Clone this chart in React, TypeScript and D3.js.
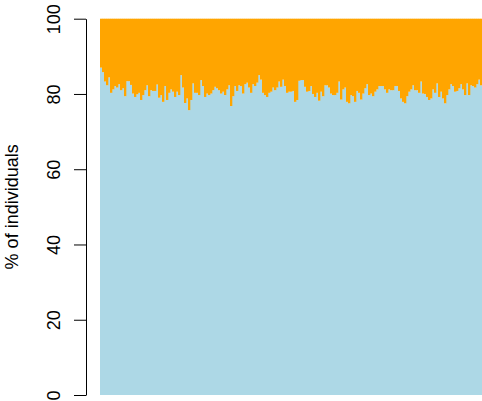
import React, { useEffect, useRef } from 'react';
import * as d3 from 'd3';

// share of individuals in the first group (light blue), per sample, left to right
const blueShare = [
  87.0, 85.8, 83.3, 82.3, 84.4, 80.3, 81.2, 82.1, 81.7, 82.6, 81.0, 81.5, 79.4, 83.4, 83.4, 82.4,
  80.1, 79.2, 79.9, 80.3, 78.4, 79.7, 81.0, 82.3, 79.4, 81.0, 80.8, 80.8, 82.5, 79.0, 79.7, 77.9,
  82.1, 78.4, 80.3, 81.2, 80.6, 79.2, 80.6, 79.7, 85.0, 81.7, 77.6, 78.8, 75.7, 78.4, 82.8, 80.3,
  80.3, 79.7, 83.7, 82.1, 79.2, 80.1, 79.7, 80.1, 81.0, 81.9, 81.5, 81.0, 80.1, 80.6,
  79.7, 81.2, 82.3, 76.8, 79.4, 82.1, 80.8, 82.3, 82.1, 80.1, 82.6, 83.0, 81.7, 80.3, 82.6, 82.1,
  83.0, 85.0, 83.8, 80.3, 79.7, 79.2, 80.3, 80.6, 81.7, 81.0, 81.7, 83.3, 81.9, 83.8, 82.1, 80.3,
  80.6, 80.6, 80.8, 77.9, 78.4, 83.5, 83.7, 83.7, 81.9, 80.6, 80.8, 82.1, 80.0, 79.2, 80.3, 78.2,
  80.6, 79.4, 82.3, 82.3, 81.7, 80.1, 79.7, 79.7, 80.3, 83.3, 78.5, 81.2, 81.7, 77.9, 77.5,
  79.7, 79.4, 77.9, 80.8, 80.3, 78.5, 80.1, 81.5, 82.6, 79.7, 80.1, 79.4, 80.6, 81.2, 82.1, 82.1,
  82.1, 81.2, 80.3, 81.2, 81.0, 81.0, 82.1, 82.1, 80.8, 78.8, 77.9, 77.5, 79.4, 80.6, 81.2, 82.3,
  81.0, 81.0, 80.3, 83.3, 80.1, 80.0, 79.2, 78.4, 78.8, 81.2, 80.3, 82.8, 79.2, 80.6, 78.8, 77.5,
  79.7, 81.2, 82.6, 82.1, 80.6, 80.8, 81.5, 82.6, 81.2, 79.7, 82.8, 79.7, 82.3, 82.1, 81.7, 82.6,
  83.8, 82.3,
];
const yTicks = [0, 20, 40, 60, 80, 100];
const yLabel = '% of individuals';
const groupColors = ['#ADD8E6', '#FFA500'];

const App = () => {
  const ref = useRef<SVGSVGElement>(null);

  useEffect(() => {
    const svg = d3.select(ref.current);
    svg.selectAll('*').remove();

    const rows = blueShare.map((v, i) => ({ id: i, blue: v, orange: 100 - v }));

    const x = d3.scaleBand<number>()
      .domain(rows.map(d => d.id))
      .range([100, 482])
      .padding(0);

    const y = d3.scaleLinear()
      .domain([0, 100])
      .range([395, 18.7]);

    const series = d3.stack<any>().keys(['blue', 'orange'])(rows);

    svg.append('g')
      .selectAll('g')
      .data(series)
      .join('g')
        .attr('fill', (d, i) => groupColors[i])
      .selectAll('rect')
      .data(d => d)
      .join('rect')
        .attr('x', d => x(d.data.id)!)
        .attr('y', d => y(d[1]))
        .attr('width', x.bandwidth() + 0.3)
        .attr('height', d => y(d[0]) - y(d[1]));

    // y axis, R style: line only between first and last tick, rotated labels
    const axis = svg.append('g')
      .attr('transform', 'translate(86,0)')
      .call(d3.axisLeft(y).tickValues(yTicks).tickSize(12).tickSizeOuter(0).tickFormat(d3.format('d')));

    axis.select('.domain').attr('stroke', '#000');
    axis.selectAll('.tick line').attr('stroke', '#000');
    axis.selectAll('.tick text')
      .attr('transform', 'rotate(-90)')
      .attr('x', 0)
      .attr('y', -26)
      .attr('dy', 0)
      .attr('text-anchor', 'middle')
      .attr('font-family', 'Liberation Sans, Arial, sans-serif')
      .attr('font-size', 18)
      .attr('fill', '#000');

    svg.append('text')
      .attr('transform', `translate(18,${(y(0) + y(100)) / 2}) rotate(-90)`)
      .attr('text-anchor', 'middle')
      .attr('font-family', 'Liberation Sans, Arial, sans-serif')
      .attr('font-size', 18)
      .text(yLabel);
  }, []);

  return (
    <svg ref={ref} width={482} height={401}
      style={{ position: 'absolute', left: 0, top: 0, background: '#fff' }} />
  );
};

export default App;
